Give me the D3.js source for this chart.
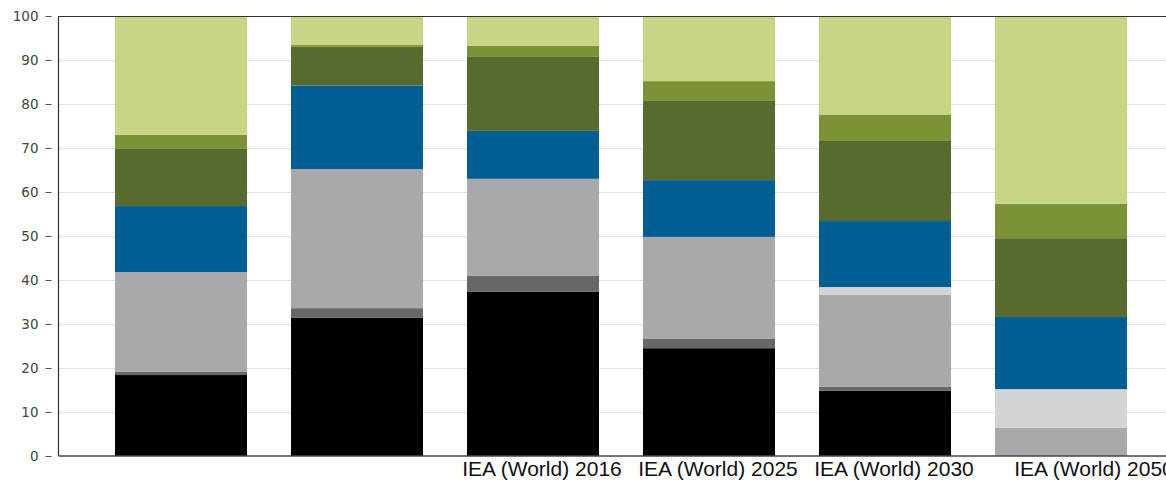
<!DOCTYPE html>
<html><head><meta charset="utf-8">
<script src="https://cdn.jsdelivr.net/npm/d3@7"></script>
<style>html,body{margin:0;padding:0;background:#fff;overflow:hidden}</style>
</head><body>
<svg id="chart" width="1166" height="481"></svg>
<script>
const categories = ["c1", "c2", "c3", "c4", "c5", "c6"];
const categoryLabels = ["", "", "IEA (World) 2016", "IEA (World) 2025", "IEA (World) 2030", "IEA (World) 2050"];
const seriesNames = ["s1", "s2", "s3", "s4", "s5", "s6", "s7", "s8"];
const seriesColors = ["#000000", "#676767", "#a8a9ac", "#d3d4d5", "#005e93", "#586b2f", "#7b9336", "#c7d584"];
const s1 = [18.4, 31.4, 37.3, 24.5, 14.8, 0];
const s2 = [0.7, 2.2, 3.6, 2.1, 0.9, 0];
const s3 = [22.7, 31.6, 22.1, 23.2, 20.9, 6.4];
const s4 = [0, 0, 0, 0, 1.8, 8.8];
const s5 = [15.0, 19.0, 10.9, 12.9, 15.0, 16.4];
const s6 = [13.0, 8.8, 16.8, 18.0, 18.2, 17.9];
const s7 = [3.2, 0.4, 2.5, 4.5, 5.9, 7.8];
const s8 = [27.0, 6.6, 6.8, 14.8, 22.5, 42.7];
const yTicks = [0, 10, 20, 30, 40, 50, 60, 70, 80, 90, 100];

const seriesValues = [s1, s2, s3, s4, s5, s6, s7, s8];
const rows = categories.map((c, i) => {
  const r = {cat: c};
  seriesNames.forEach((s, j) => r[s] = seriesValues[j][i]);
  return r;
});

const svg = d3.select("#chart");
const mLeft = 58.5, mRight = 1183.5, mTop = 16, mBottom = 456;

const x = d3.scaleBand().domain(categories).range([mLeft, mRight]).paddingInner(0.25).paddingOuter(0.321);
const y = d3.scaleLinear().domain([0, 100]).range([mBottom, mTop]);

// gridlines
svg.append("g").selectAll("line").data(yTicks.filter(d => d > 0 && d < 100)).join("line")
  .attr("x1", mLeft).attr("x2", 1166)
  .attr("y1", d => Math.round(y(d)) + 0.5).attr("y2", d => Math.round(y(d)) + 0.5)
  .attr("stroke", "#e3e3e3").attr("stroke-width", 1);

// bars
const stack = d3.stack().keys(seriesNames)(rows);
svg.append("g").selectAll("g").data(stack).join("g")
  .attr("fill", (d, i) => seriesColors[i])
  .selectAll("rect").data(d => d).join("rect")
  .attr("x", d => x(d.data.cat))
  .attr("width", x.bandwidth())
  .attr("y", d => y(d[1]))
  .attr("height", d => Math.max(0, y(d[0]) - y(d[1])));

// frame lines
svg.append("line").attr("x1", mLeft).attr("x2", 1166).attr("y1", mTop + 0.5).attr("y2", mTop + 0.5)
  .attr("stroke", "#333").attr("stroke-width", 1.2);
svg.append("line").attr("x1", mLeft).attr("x2", mLeft).attr("y1", mTop).attr("y2", mBottom)
  .attr("stroke", "#333").attr("stroke-width", 1.2);
svg.append("line").attr("x1", mLeft).attr("x2", 1166).attr("y1", mBottom).attr("y2", mBottom)
  .attr("stroke", "#444").attr("stroke-width", 1.5);

// y axis
const yAxis = d3.axisLeft(y).tickValues(yTicks).tickSize(6).tickPadding(7);
const gy = svg.append("g").attr("transform", `translate(${mLeft - 7},0)`).call(yAxis);
gy.select(".domain").remove();
gy.selectAll(".tick line").attr("stroke", "#555");
gy.selectAll(".tick text").attr("fill", "#444").style("font-family", "DejaVu Sans").style("font-size", "13.5px");

// x axis labels
const xAxis = d3.axisBottom(x).tickFormat((d, i) => categoryLabels[i]).tickSize(0).tickPadding(5);
const gx = svg.append("g").attr("transform", `translate(0,${mBottom})`).call(xAxis);
gx.select(".domain").remove();
gx.selectAll(".tick text").attr("fill", "#111").style("font-family", "Liberation Sans Narrow, Liberation Sans").style("font-size", "21px")
  .attr("dx", (d, i) => i === categories.length - 1 ? 33 : 9);
</script>
</body></html>
